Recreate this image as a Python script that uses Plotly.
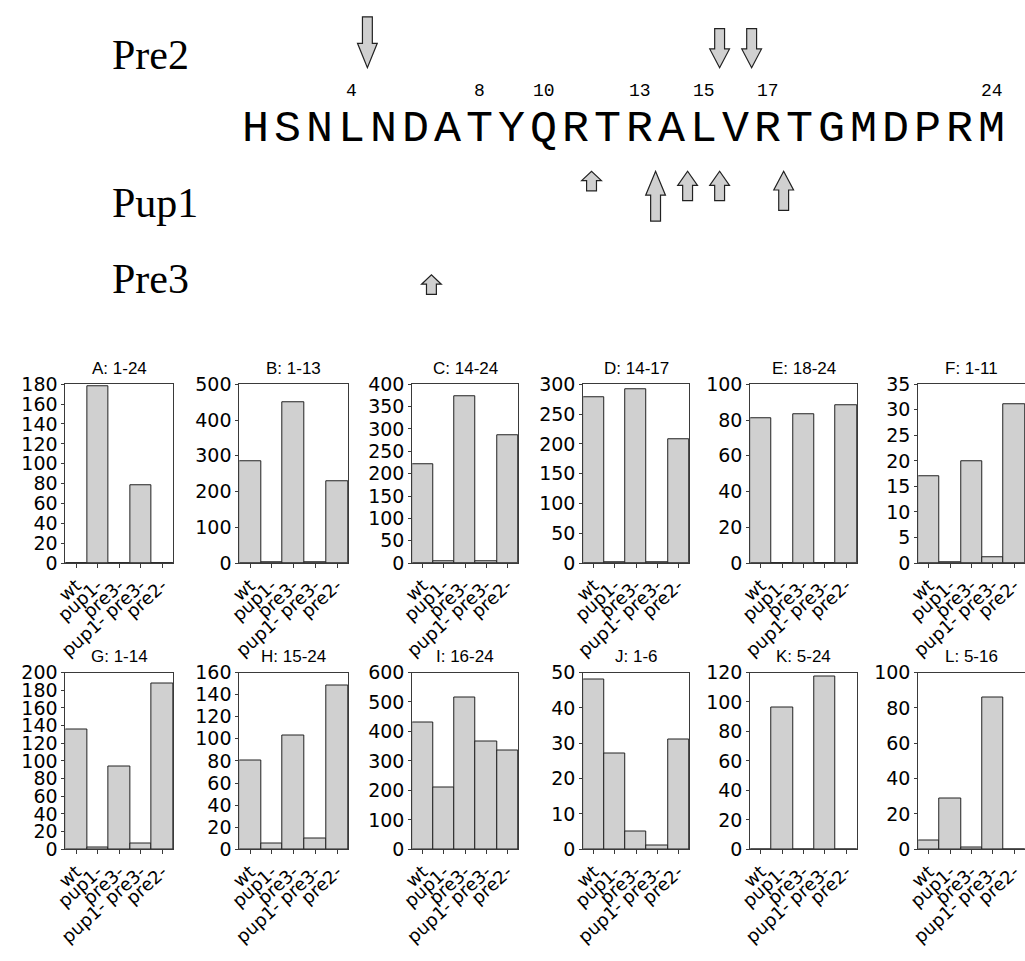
import plotly.graph_objects as go

# ---------------------------------------------------------------- data
strains = ["wt", "pup1-", "pre3-", "pup1- pre3-", "pre2-"]

panel_titles = ["A: 1-24", "B: 1-13", "C: 14-24", "D: 14-17", "E: 18-24", "F: 1-11",
                "G: 1-14", "H: 15-24", "I: 16-24", "J: 1-6", "K: 5-24", "L: 5-16"]

frag_A = [0, 178, 0, 78, 0]
frag_B = [285, 2, 450, 3, 228]
frag_C = [222, 5, 373, 3, 286]
frag_D = [279, 1, 292, 1, 208]
frag_E = [81, 0, 83, 0, 88]
frag_F = [17, 0.1, 20, 1.1, 31]
frag_G = [135, 2, 94, 7, 188]
frag_H = [80, 5, 103, 10, 148]
frag_I = [430, 211, 515, 366, 335]
frag_J = [48, 27, 5, 1, 31]
frag_K = [0, 96, 0, 117, 0]
frag_L = [5, 29, 1, 86, 0]

y_max = [180, 500, 400, 300, 100, 35, 200, 160, 600, 50, 120, 100]
y_step = [20, 100, 50, 50, 20, 5, 20, 20, 100, 10, 20, 20]

sequence = "HSNLNDATYQRTRALVRTGMDPRM"
numbered_residues = [4, 8, 10, 13, 15, 17, 24]

# cleavage sites (after residue n) and relative cleavage strength per subunit
pre2_sites = [4, 15, 16]
pre2_strength = [2.6, 2.0, 2.0]
pup1_sites = [11, 13, 14, 15, 17]
pup1_strength = [1.0, 2.55, 1.5, 1.5, 2.0]
pre3_sites = [6]
pre3_strength = [1.0]

fragments = [frag_A, frag_B, frag_C, frag_D, frag_E, frag_F,
             frag_G, frag_H, frag_I, frag_J, frag_K, frag_L]

# ---------------------------------------------------------------- geometry / style
FIG_W, FIG_H = 1025, 961
COL_PX = [(54, 163), (230, 340), (405, 512), (578, 685), (747, 855), (917, 1025)]
ROW_PX = [(382, 565), (677, 858)]

BAR_FILL = "#d0d0d0"
BAR_EDGE = "#222222"
FRAME = "#3a3a3a"
ARROW_FILL = "#d0d0d0"

TOP_H = 320            # height of the sequence panel, in pixel-like units
CHAR_W = 32.4          # width of one residue in pixels
SEQ_LEFT = 230         # left edge of the sequence in pixels
STRENGTH_UNIT = 20     # arrow length per unit of strength
HEAD_FRAC = 0.48
SHAFT_HW = 5 / CHAR_W
HEAD_HW = 10 / CHAR_W

fig = go.Figure()

# ---------------------------------------------------------------- bar panels
for k, (title, vals) in enumerate(zip(panel_titles, fragments), start=1):
    r, c = divmod(k - 1, 6)
    x0, x1 = COL_PX[c]
    top, bottom = ROW_PX[r]
    sfx = "" if k == 1 else str(k)
    fig.add_trace(go.Bar(
        x=strains, y=vals, xaxis="x" + sfx, yaxis="y" + sfx, width=1.0,
        marker=dict(color=BAR_FILL, line=dict(color=BAR_EDGE, width=1)),
        showlegend=False, name=title,
    ))
    fig.layout["xaxis" + sfx] = dict(
        domain=[x0 / FIG_W, x1 / FIG_W], anchor="y" + sfx,
        type="category", categoryorder="array", categoryarray=strains,
        tickmode="array", tickvals=strains, ticktext=strains,
        range=[-0.5, 4.5], showline=True, linecolor=FRAME, linewidth=1,
        mirror=True, ticks="outside", ticklen=4, tickcolor=FRAME,
        tickangle=-42, tickfont=dict(family="DejaVu Sans", size=18, color="black"),
        showgrid=False, zeroline=False,
    )
    fig.layout["yaxis" + sfx] = dict(
        domain=[1 - bottom / FIG_H, 1 - top / FIG_H], anchor="x" + sfx,
        range=[0, y_max[k - 1]], tick0=0, dtick=y_step[k - 1],
        showline=True, linecolor=FRAME, linewidth=1, mirror=(c != 5),
        ticks="outside", ticklen=3, tickcolor=FRAME,
        tickfont=dict(family="DejaVu Sans", size=19, color="black"),
        showgrid=False, zeroline=False,
    )
    fig.add_annotation(
        text=title, xref=f"x{sfx} domain", yref=f"y{sfx} domain", x=0.5, y=1,
        yanchor="middle", yshift=16, showarrow=False,
        font=dict(family="Liberation Sans", size=17, color="black"),
    )

# ---------------------------------------------------------------- sequence panel
fig.update_layout(
    xaxis13=dict(domain=[0, 1], anchor="y13", visible=False,
                 range=[-SEQ_LEFT / CHAR_W, (FIG_W - SEQ_LEFT) / CHAR_W]),
    yaxis13=dict(domain=[1 - TOP_H / FIG_H, 1], anchor="x13", visible=False,
                 range=[TOP_H, 0]),
)

for i, aa in enumerate(sequence, start=1):
    fig.add_annotation(text=aa, x=i - 0.5, y=121, xref="x13", yref="y13",
                       showarrow=False, xanchor="center", yanchor="middle",
                       font=dict(family="Liberation Mono", size=45, color="black"))

for n in numbered_residues:
    fig.add_annotation(text=str(n), x=n - 0.5, y=82, xref="x13", yref="y13",
                       showarrow=False, xanchor="center", yanchor="middle",
                       font=dict(family="Liberation Mono", size=18, color="black"))

LABEL_X = (99 - SEQ_LEFT) / CHAR_W
for label, ypos in [("Pre2", 45), ("Pup1", 197), ("Pre3", 274)]:
    fig.add_annotation(text=label, x=LABEL_X, y=ypos, xref="x13", yref="y13",
                       showarrow=False, xanchor="left", yanchor="middle",
                       font=dict(family="Liberation Serif", size=42, color="black"))


def block_arrow(site, length, tip_y, pointing_down):
    head = HEAD_FRAC * length
    s = -1 if pointing_down else 1
    base_y = tip_y + s * length
    neck_y = tip_y + s * head
    pts = [(site - SHAFT_HW, base_y), (site + SHAFT_HW, base_y),
           (site + SHAFT_HW, neck_y), (site + HEAD_HW, neck_y),
           (site, tip_y), (site - HEAD_HW, neck_y), (site - SHAFT_HW, neck_y)]
    path = "M " + " L ".join(f"{x:.4f},{y:.2f}" for x, y in pts) + " Z"
    return dict(type="path", path=path, xref="x13", yref="y13",
                fillcolor=ARROW_FILL, line=dict(color="#222222", width=1.2))


for site, st in zip(pre2_sites, pre2_strength):
    fig.add_shape(block_arrow(site, st * STRENGTH_UNIT, 58, True))
for site, st in zip(pup1_sites, pup1_strength):
    fig.add_shape(block_arrow(site, st * STRENGTH_UNIT, 164, False))
for site, st in zip(pre3_sites, pre3_strength):
    fig.add_shape(block_arrow(site, st * STRENGTH_UNIT, 270, False))

fig.update_layout(
    width=FIG_W, height=FIG_H, autosize=False,
    margin=dict(l=0, r=0, t=0, b=0),
    paper_bgcolor="white", plot_bgcolor="white",
    bargap=0, showlegend=False,
)

fig.write_html("out.html")
